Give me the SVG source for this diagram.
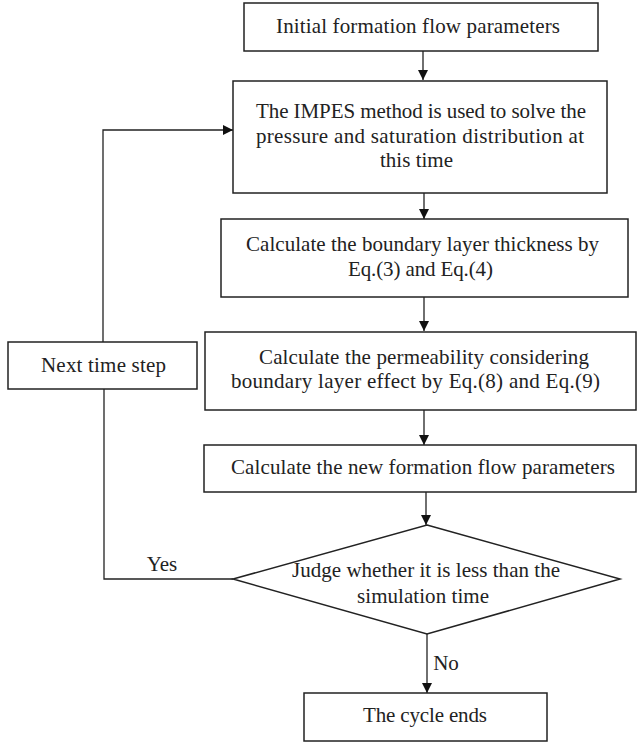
<svg xmlns="http://www.w3.org/2000/svg" width="637" height="742" viewBox="0 0 637 742">
<defs>
<style>
.box{fill:#fff;stroke:#222;stroke-width:1.5}
.t{font-family:"Liberation Serif","Times New Roman",serif;font-size:21px;fill:#222;text-anchor:middle}
.c{fill:none;stroke:#222;stroke-width:1.3}
</style>
<marker id="ah" viewBox="0 0 10 10" refX="10" refY="5" markerWidth="10" markerHeight="10" markerUnits="userSpaceOnUse" orient="auto">
<path d="M0,0 L10,5 L0,10 Z" fill="#111"/>
</marker>
</defs>
<rect width="637" height="742" fill="#fff"/>
<g id="connectors">
<line class="c" x1="423" y1="51" x2="423" y2="80" marker-end="url(#ah)"/>
<line class="c" x1="424" y1="193" x2="424" y2="219" marker-end="url(#ah)"/>
<line class="c" x1="424" y1="297" x2="424" y2="331" marker-end="url(#ah)"/>
<line class="c" x1="424" y1="410" x2="424" y2="445" marker-end="url(#ah)"/>
<line class="c" x1="426" y1="492" x2="426" y2="525" marker-end="url(#ah)"/>
<line class="c" x1="427" y1="634" x2="427" y2="693" marker-end="url(#ah)"/>
<polyline class="c" points="233,579 104,579 104,389"/>
<polyline class="c" points="103,342 103,130 233,130" marker-end="url(#ah)"/>
<text class="t" x="162" y="571">Yes</text>
<text class="t" x="446" y="670">No</text>
</g>
<g id="n1">
<rect class="box" x="244" y="3" width="354" height="48"/>
<text class="t" x="418" y="33" textLength="284">Initial formation flow parameters</text>
</g>
<g id="n2">
<rect class="box" x="233" y="81" width="374" height="112"/>
<text class="t" x="421" y="118" textLength="330">The IMPES method is used to solve the</text>
<text class="t" x="420" y="142.5" textLength="328">pressure and saturation distribution at</text>
<text class="t" x="416.5" y="167" textLength="73">this time</text>
</g>
<g id="n3">
<rect class="box" x="221" y="219" width="407" height="78"/>
<text class="t" x="422.5" y="251" textLength="353">Calculate the boundary layer thickness by</text>
<text class="t" x="420.5" y="276" textLength="145">Eq.(3) and Eq.(4)</text>
</g>
<g id="n4">
<rect class="box" x="205" y="332" width="431" height="78"/>
<text class="t" x="424" y="364" textLength="330">Calculate the permeability considering</text>
<text class="t" x="415.5" y="388" textLength="369">boundary layer effect by Eq.(8) and Eq.(9)</text>
</g>
<g id="n5">
<rect class="box" x="204" y="445" width="432" height="47"/>
<text class="t" x="423" y="474" textLength="384">Calculate the new formation flow parameters</text>
</g>
<g id="n6">
<rect class="box" x="8" y="342" width="189" height="47"/>
<text class="t" x="103.5" y="372" textLength="125">Next time step</text>
</g>
<g id="n7">
<polygon class="box" points="427,525 620,579 427,634 233,579"/>
<text class="t" x="426" y="577" textLength="268">Judge whether it is less than the</text>
<text class="t" x="423" y="603" textLength="132">simulation time</text>
</g>
<g id="n8">
<rect class="box" x="304" y="693" width="243" height="48"/>
<text class="t" x="425" y="722" textLength="124">The cycle ends</text>
</g>
</svg>
